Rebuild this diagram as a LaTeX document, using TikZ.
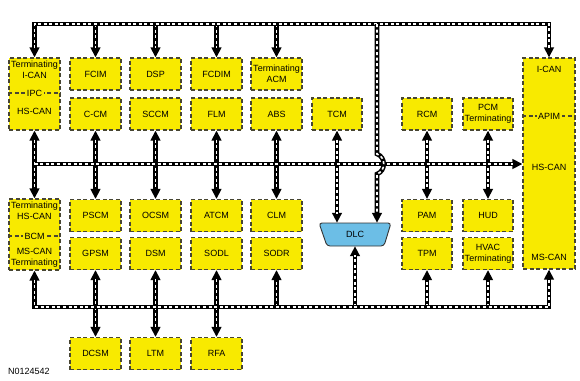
\documentclass[tikz,border=0pt]{standalone}
\usepackage{fontspec}
\setmainfont{Liberation Sans}
\usetikzlibrary{arrows.meta}
\definecolor{boxyellow}{RGB}{248,234,0}
\definecolor{boxedge}{RGB}{72,70,50}
\definecolor{dlcblue}{RGB}{108,190,230}
\begin{document}
\begin{tikzpicture}[x=1pt,y=-1pt,
  >={Triangle[length=10pt,width=9.5pt]},
  ecu/.style={draw=boxedge, fill=boxyellow, line width=1.1pt, dash pattern=on 4pt off 2.5pt,
    minimum width=51pt, minimum height=32pt, inner sep=0pt,
    font=\fontsize{9}{11}\selectfont, align=center},
  lbl/.style={font=\fontsize{9}{11}\selectfont, align=center, inner sep=0pt},
  seplbl/.style={font=\fontsize{9}{11}\selectfont, fill=boxyellow, inner sep=1.5pt},
  sepline/.style={draw=boxedge, line width=1.1pt, dash pattern=on 4pt off 2.5pt},
  wire/.style={line width=4.6pt, draw=black},
  dsh/.style={draw=white, line width=1.6pt, dash pattern=on 3pt off 2.6pt, -},
  bus/.style={wire, postaction={dsh}},
  busA/.style={wire, ->, postaction={dsh, shorten >=9pt}},
  busAA/.style={wire, <->, postaction={dsh, shorten >=9pt, shorten <=9pt}},
  dlcshape/.style={draw=black!80, line width=0.9pt, fill=dlcblue, rounded corners=3pt}
]
\useasboundingbox (0,0) rectangle (580,380);

% ---------- modules ----------
\node[ecu, minimum height=72pt] (ipc) at (34.5,94) {};
\node[ecu] (fcim)  at (95.5,74)  {FCIM};
\node[ecu] (dsp)   at (155.5,74) {DSP};
\node[ecu] (fcdim) at (216.5,74) {FCDIM};
\node[ecu] (acm)   at (276.5,74) {Terminating\\ACM};
\node[ecu] (ccm)   at (95.5,114)  {C-CM};
\node[ecu] (sccm)  at (155.5,114) {SCCM};
\node[ecu] (flm)   at (216.5,114) {FLM};
\node[ecu] (abs)   at (276.5,114) {ABS};
\node[ecu, minimum width=50pt] (tcm) at (337,114) {TCM};
\node[ecu, minimum width=50pt] (rcm) at (427,114) {RCM};
\node[ecu, minimum width=50pt] (pcm) at (488,114) {PCM\\Terminating};
\node[ecu, minimum width=52pt, minimum height=211pt] (apim) at (549,163.5) {};

\node[ecu, minimum height=71pt] (bcm) at (34.5,234.5) {};
\node[ecu] (pscm) at (95.5,215.5)  {PSCM};
\node[ecu] (ocsm) at (155.5,215.5) {OCSM};
\node[ecu] (atcm) at (216.5,215.5) {ATCM};
\node[ecu] (clm)  at (276.5,215.5) {CLM};
\node[ecu] (gpsm) at (95.5,253.5)  {GPSM};
\node[ecu] (dsm)  at (155.5,253.5) {DSM};
\node[ecu] (sodl) at (216.5,253.5) {SODL};
\node[ecu] (sodr) at (276.5,253.5) {SODR};
\node[ecu, minimum width=50pt] (pam)  at (427,215.5) {PAM};
\node[ecu, minimum width=50pt] (hud)  at (488,215.5) {HUD};
\node[ecu, minimum width=50pt] (tpm)  at (427,253.5) {TPM};
\node[ecu, minimum width=50pt] (hvac) at (488,253.5) {HVAC\\Terminating};
\node[ecu] (dcsm) at (95.5,353.5)  {DCSM};
\node[ecu] (ltm)  at (155.5,353.5) {LTM};
\node[ecu] (rfa)  at (216.5,353.5) {RFA};

% labels inside the multi-network modules
\node[lbl] (ipct) at (34.5,69.5) {Terminating\\I-CAN};
\draw[sepline] (ipc.west |- 0,93) -- (ipc.east |- 0,93);
\node[seplbl] (ipcl) at (34.5,93) {IPC};
\node[lbl] (ipcb) at (34.5,111) {HS-CAN};

\node[lbl] (bcmt) at (34.5,210.5) {Terminating\\HS-CAN};
\draw[sepline] (bcm.west |- 0,236) -- (bcm.east |- 0,236);
\node[seplbl] (bcml) at (34.5,236) {BCM};
\node[lbl] (bcmb) at (34.5,258) {MS-CAN\\Terminating};

\node[lbl] (apit) at (549,69) {I-CAN};
\draw[sepline] (apim.west |- 0,116) -- (apim.east |- 0,116);
\node[seplbl] (apil) at (549,116) {APIM};
\node[lbl] (apih) at (549,167) {HS-CAN};
\node[lbl] (apim2) at (549,257) {MS-CAN};

% DLC connector
\filldraw[dlcshape] (319,223) -- (391,223) -- (384,246) -- (327,246) -- cycle;
\node[lbl, minimum width=72pt, minimum height=23pt] (dlc) at (355,234.5) {DLC};

% ---------- bus reference points ----------
\coordinate (tbL) at (34.5,24);
\coordinate (mbL) at (34.5,164);
\coordinate (bbL) at (34.5,307);
\coordinate (hx) at (377,0);

% ---------- drops from I-CAN (top) ----------
\draw[busA] (fcim.north |- tbL) -- (fcim.north);
\draw[busA] (dsp.north |- tbL) -- (dsp.north);
\draw[busA] (fcdim.north |- tbL) -- (fcdim.north);
\draw[busA] (acm.north |- tbL) -- (acm.north);

% ---------- HS-CAN (middle) verticals ----------
\draw[busAA] (ipc.south) -- (bcm.north);
\draw[busAA] (ccm.south) -- (pscm.north);
\draw[busAA] (sccm.south) -- (ocsm.north);
\draw[busAA] (flm.south) -- (atcm.north);
\draw[busAA] (abs.south) -- (clm.north);
\draw[busAA] (tcm.south) -- (tcm.south |- dlc.north);
\draw[busAA] (rcm.south) -- (pam.north);
\draw[busAA] (pcm.south) -- (hud.north);

% ---------- MS-CAN (bottom) verticals ----------
\draw[busAA] (gpsm.south) -- (dcsm.north);
\draw[busAA] (dsm.south) -- (ltm.north);
\draw[busAA] (sodl.south) -- (rfa.north);
\draw[busA] (sodr.south |- bbL) -- (sodr.south);
\draw[busA] (dlc.south |- bbL) -- (dlc.south);
\draw[busA] (tpm.south |- bbL) -- (tpm.south);
\draw[busA] (hvac.south |- bbL) -- (hvac.south);

% ---------- main buses ----------
\draw[busAA] (ipc.north) -- (tbL) -- (apim.north |- tbL) -- (apim.north);
\draw[busA] (mbL) -- (apim.west |- mbL);
\draw[busAA] (bcm.south) -- (bbL) -- (apim.south |- bbL) -- (apim.south);

% I-CAN to DLC with hop over HS-CAN
\draw[busA] (hx |- tbL) -- (hx |- 0,154) .. controls (386,157) and (386,171) .. (hx |- 0,174) -- (hx |- dlc.north);

\node[lbl, anchor=west] (ref) at (8,371) {N0124542};
\end{tikzpicture}
\end{document}
